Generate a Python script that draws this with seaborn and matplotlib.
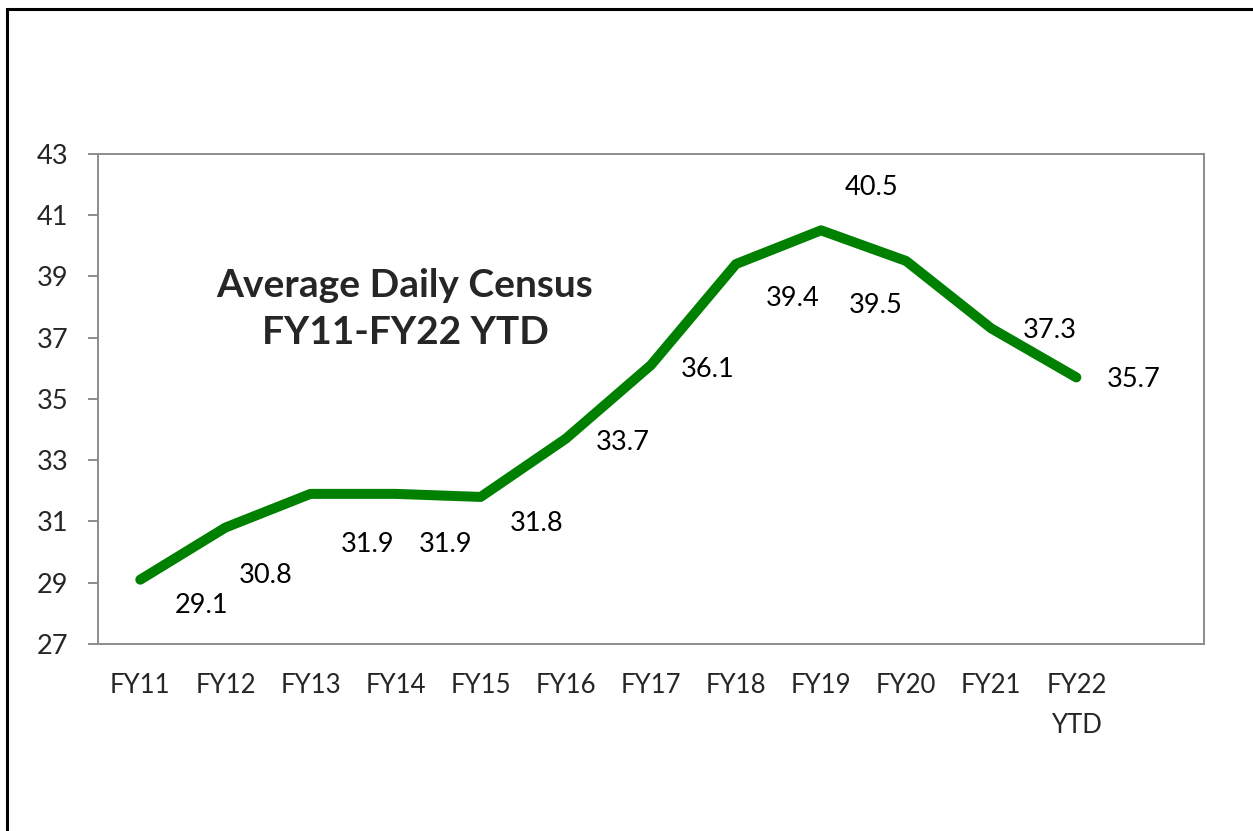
import numpy as np
import pandas as pd
import matplotlib
matplotlib.use("Agg")
import matplotlib.pyplot as plt
from matplotlib.patches import Rectangle
import seaborn as sns

# chart data
fiscal_years = ["FY11", "FY12", "FY13", "FY14", "FY15", "FY16",
                "FY17", "FY18", "FY19", "FY20", "FY21", "FY22\nYTD"]
census = [29.1, 30.8, 31.9, 31.9, 31.8, 33.7, 36.1, 39.4, 40.5, 39.5, 37.3, 35.7]
y_ticks = [27, 29, 31, 33, 35, 37, 39, 41, 43]
title_lines = ["Average Daily Census", "FY11-FY22 YTD"]

# where each value label sits relative to its point (offset points)
label_offsets = [(44, -17), (29, -33), (41, -35), (36, -35), (40, -17), (41, -1),
                 (41, -1), (41, -23), (36, 33), (-22, -30), (42, 0), (41, 0)]

sns.set_style("white")
plt.rcParams['font.family'] = ['Lato', 'DejaVu Sans']

GREEN = "#008000"
GRAY = "#8c8c8c"

fig = plt.figure(figsize=(12.53, 8.31), dpi=100)
ax = fig.add_axes([0.078, 0.225, 0.8829, 0.590])

df = pd.DataFrame({"year": fiscal_years, "census": census})
sns.lineplot(data=df, x="year", y="census", ax=ax, color=GREEN, linewidth=7.2,
             sort=False)
for ln in ax.lines:
    ln.set_solid_capstyle("round")
    ln.set_solid_joinstyle("round")

# value labels
for i, (val, off) in enumerate(zip(census, label_offsets)):
    ax.annotate(f"{val:.1f}", xy=(i, val), xytext=off, textcoords="offset points",
                ha="center", va="center_baseline", fontsize=19.5, color="black")

ax.set_xlim(-0.5, len(fiscal_years) + 0.5)
ax.set_ylim(y_ticks[0], y_ticks[-1])
ax.set_yticks(y_ticks)
ax.set_xticks(range(len(fiscal_years)))
ax.set_xticklabels(fiscal_years, linespacing=1.75)
ax.set_xticks(np.arange(-0.5, len(fiscal_years) + 1, 1), minor=True)

ax.tick_params(axis="x", which="major", length=0, pad=21, labelsize=18.5)
ax.tick_params(axis="x", which="minor", length=7.2, width=1.4, color=GRAY,
               direction="out")
ax.tick_params(axis="y", length=7.2, width=1.4, color=GRAY, pad=14, labelsize=19.5,
               direction="out", left=True)
ax.set_xlabel("")
ax.set_ylabel("")
for sp in ax.spines.values():
    sp.set_visible(True)
    sp.set_color(GRAY)
    sp.set_linewidth(1.4)

# title block inside the plot
fig.text(405 / 1253, 1 - 309 / 831, "\n".join(title_lines), ha="center", va="center",
         fontsize=28, fontweight="bold", linespacing=1.4)

# outer frame (runs off the right and bottom edges)
frame = Rectangle((7 / 1253, -0.1), 1.2, 1 - 9 / 831 + 0.1, transform=fig.transFigure,
                  fill=False, edgecolor="black", linewidth=2.2, clip_on=False)
fig.patches.append(frame)

fig.savefig("out.png", dpi=100)
